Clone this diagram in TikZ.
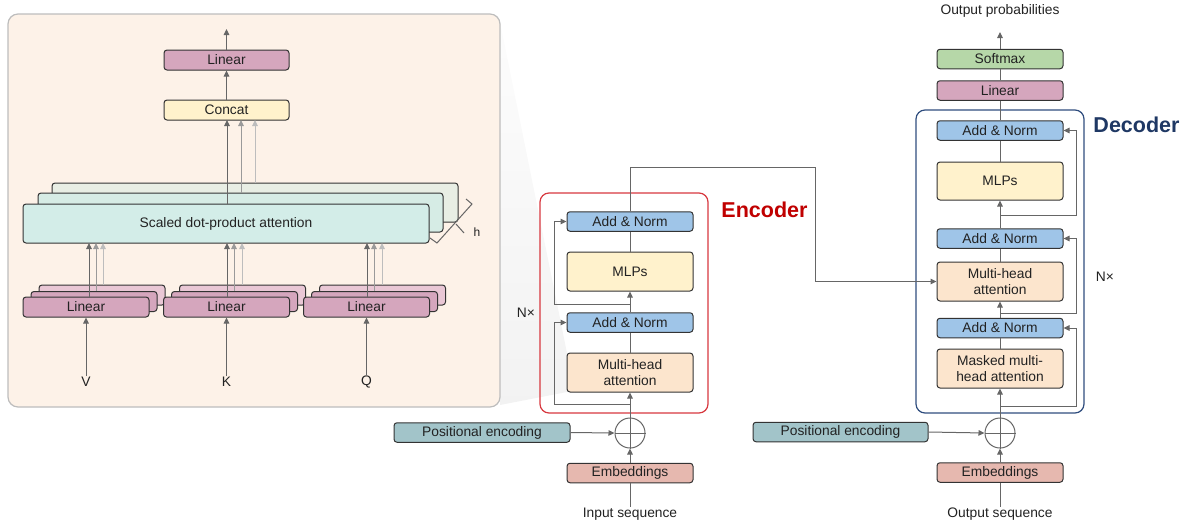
\documentclass[tikz,border=0pt]{standalone}
\usepackage{fontspec}
\setmainfont{Liberation Sans}
\usetikzlibrary{arrows.meta,calc}
\definecolor{panelfill}{HTML}{FDF2E8}
\definecolor{panelline}{HTML}{BDBDBD}
\definecolor{attfront}{HTML}{D3EDE8}
\definecolor{attmid}{HTML}{D6ECE5}
\definecolor{attback}{HTML}{E8EEE4}
\definecolor{linpink}{HTML}{D5A6BD}
\definecolor{linback}{HTML}{E9C7D5}
\definecolor{yellowf}{HTML}{FFF2CC}
\definecolor{bluef}{HTML}{9FC5E8}
\definecolor{orangef}{HTML}{FCE5CD}
\definecolor{tealf}{HTML}{A2C4C9}
\definecolor{salmonf}{HTML}{E6B8AF}
\definecolor{greenf}{HTML}{B6D7A8}
\definecolor{encred}{HTML}{D7383F}
\definecolor{enctext}{HTML}{C00000}
\definecolor{decblue}{HTML}{2F4D7E}
\definecolor{dectext}{HTML}{1F3864}
\definecolor{arrdark}{HTML}{666666}
\definecolor{arrmid}{HTML}{9A9A9A}
\definecolor{arrlight}{HTML}{BDBDBD}
\definecolor{boxline}{HTML}{333333}
\definecolor{txt}{HTML}{222222}
\tikzset{
  fnt/.style={font=\fontsize{13.8}{16}\selectfont, text=txt},
  blk/.style={fnt, draw=boxline, line width=1pt, rounded corners=3pt, inner sep=0pt, align=center},
  sbox/.style={blk, minimum width=126pt, minimum height=19.5pt},
  tbox/.style={blk, minimum width=126pt, minimum height=39pt},
  lbl/.style={fnt, inner sep=1pt},
  ln/.style={draw=arrdark, line width=1pt},
  arr/.style={ln, -{Triangle[length=6pt,width=5.5pt]}},
  arrm/.style={draw=arrmid, line width=1pt, -{Triangle[length=6pt,width=5.5pt]}},
  arrl/.style={draw=arrlight, line width=1pt, -{Triangle[length=6pt,width=5.5pt]}},
  plus/.style={circle, draw=arrdark, line width=1pt, minimum size=30pt, inner sep=0pt},
}
\begin{document}
\begin{tikzpicture}[x=1pt,y=-1pt]
\useasboundingbox (0,0) rectangle (1189,525);
% zoom wedge
\shade[top color=gray!2, bottom color=gray!10] (500,22) -- (567,353) -- (567,392) -- (500,405) -- cycle;
% panel
\draw[panelline, fill=panelfill, line width=1.2pt, rounded corners=10pt] (8,14) rectangle (500,407);

% attention stack
\node[blk, fill=attback, minimum width=406pt, minimum height=39pt] (attB) at (255,202.5) {};
\node[blk, fill=attmid, minimum width=405pt, minimum height=39pt] (attM) at (240.5,212.5) {};
\node[blk, fill=attfront, minimum width=406pt, minimum height=39pt] (att) at (226,223.5) {Scaled dot-product attention};

% h bracket
\draw[arrdark, line width=1pt] (466,199) -- (472,204) -- (437,243) -- (430,238);
\draw[arrdark, line width=1pt] (456,224) -- (464,233);
\node[lbl, font=\fontsize{12}{14}\selectfont] (hlab) at (477,232) {h};

% concat + linear
\node[blk, fill=yellowf, minimum width=125pt, minimum height=20pt] (concat) at (226.5,110) {Concat};
\node[blk, fill=linpink, minimum width=125pt, minimum height=20pt] (linTop) at (226.5,60) {Linear};
\coordinate (topEnd) at (226.5,29);
\draw[arr] (linTop.north) -- (topEnd);
\draw[arr] (concat.north) -- (linTop.south);
\draw[arr] (227,204) -- (227,120);
\draw[arrm] (241,193) -- (241,120);
\draw[arrl] (255,183) -- (255,120);

% linear groups
\foreach \nm/\cx/\lab in {V/86/V, K/226.5/K, Q/366.5/Q}{
  \node[blk, fill=linback, minimum width=126pt, minimum height=20pt] (l\nm B) at (\cx+16,295) {};
  \node[blk, fill=linpink, minimum width=126pt, minimum height=20pt] (l\nm M) at (\cx+8,301.5) {};
  \node[blk, fill=linpink, minimum width=126pt, minimum height=20pt] (l\nm) at (\cx,307) {Linear};
  \node[lbl] (in\nm) at (\cx,382) {\lab};
  \draw[arr] (in\nm.north) -- (l\nm.south);
}
\foreach \xa/\yb in {89/96, 227/234, 367/374}{
  \draw[arr] (\xa,297) -- (\xa,243);
  \draw[arrm] (\yb,291) -- (\yb,243);
}
\draw[arrl] (103,285) -- (103,243);
\draw[arrl] (242,285) -- (242,243);
\draw[arrl] (382,285) -- (382,243);

% ===== Encoder =====
\draw[encred, line width=1.2pt, rounded corners=9pt] (540,193) rectangle (708,413);
\node[font=\bfseries\fontsize{21.5}{24}\selectfont, text=enctext, inner sep=0pt] (encl) at (764.5,210) {Encoder};
\node[lbl] (enN) at (526,313) {N×};

\node[sbox, fill=bluef] (enAN2) at (630,221.5) {Add \& Norm};
\node[tbox, fill=yellowf] (enMLP) at (630,271.5) {MLPs};
\node[sbox, fill=bluef] (enAN1) at (630,322.5) {Add \& Norm};
\node[tbox, fill=orangef] (enMHA) at (630,372.5) {Multi-head\\attention};
\node[plus] (enPlus) at (630,433) {};
\draw[arrdark, line width=1pt] (enPlus.north) -- (enPlus.south) (enPlus.west) -- (enPlus.east);
\node[blk, fill=tealf, minimum width=176pt, minimum height=19.5pt] (enPE) at (482,432.5) {Positional encoding};
\node[sbox, fill=salmonf] (enEmb) at (630,473) {Embeddings};
\node[lbl] (inseq) at (630,514) {Input sequence};

\draw[ln] (inseq.north) -- (enEmb.south);
\draw[arr] (enEmb.north) -- (enPlus.south);
\draw[arr] (enPE.east) -- (enPlus.west);
\draw[arr] (enPlus.north) -- (enMHA.south);
\coordinate (enR1) at (630,404);
\draw[arr] (enR1) -| ([xshift=-12pt]enAN1.west) -- (enAN1.west);
\draw[ln] (enMHA.north) -- (enAN1.south);
\draw[arr] (enAN1.north) -- (enMLP.south);
\coordinate (enR2) at (630,304);
\draw[arr] (enR2) -| ([xshift=-12pt]enAN2.west) -- (enAN2.west);
\draw[ln] (enMLP.north) -- (enAN2.south);

% ===== Decoder =====
\draw[decblue, line width=1.2pt, rounded corners=9pt] (916,110) rectangle (1084,413);
\node[font=\bfseries\fontsize{21.5}{24}\selectfont, text=dectext, inner sep=0pt] (decl) at (1136.5,125) {Decoder};
\node[lbl] (deN) at (1105,277) {N×};

\node[lbl] (outp) at (1000,11) {Output probabilities};
\coordinate (deTop) at (1000,32);
\node[sbox, fill=greenf] (deSoft) at (1000,59) {Softmax};
\node[sbox, fill=linpink] (deLin) at (1000,90.5) {Linear};
\node[sbox, fill=bluef] (deAN3) at (1000,130.5) {Add \& Norm};
\node[blk, fill=yellowf, minimum width=126pt, minimum height=38pt] (deMLP) at (1000,181) {MLPs};
\node[sbox, fill=bluef] (deAN2) at (1000,238.5) {Add \& Norm};
\node[tbox, fill=orangef] (deMHA) at (1000,281.5) {Multi-head\\attention};
\node[sbox, fill=bluef] (deAN1) at (1000,328) {Add \& Norm};
\node[tbox, fill=orangef] (deMMHA) at (1000,368.5) {Masked multi-\\head attention};
\node[plus] (dePlus) at (1000,433) {};
\draw[arrdark, line width=1pt] (dePlus.north) -- (dePlus.south) (dePlus.west) -- (dePlus.east);
\node[blk, fill=tealf, minimum width=175pt, minimum height=19.5pt] (dePE) at (840.5,432) {Positional encoding};
\node[sbox, fill=salmonf] (deEmb) at (1000,472.5) {Embeddings};
\node[lbl] (outseq) at (1000,514) {Output sequence};

\draw[ln] (outseq.north) -- (deEmb.south);
\draw[arr] (deEmb.north) -- (dePlus.south);
\draw[arr] (dePE.east) -- (dePlus.west);
\draw[arr] (dePlus.north) -- (deMMHA.south);
\coordinate (deR1) at (1000,406);
\draw[arr] (deR1) -| ([xshift=13pt]deAN1.east) -- (deAN1.east);
\draw[ln] (deMMHA.north) -- (deAN1.south);
\draw[arr] (deAN1.north) -- (deMHA.south);
\coordinate (deR2) at (1000,313);
\draw[arr] (deR2) -| ([xshift=13pt]deAN2.east) -- (deAN2.east);
\draw[ln] (deMHA.north) -- (deAN2.south);
\draw[arr] (deAN2.north) -- (deMLP.south);
\coordinate (deR3) at (1000,215);
\draw[arr] (deR3) -| ([xshift=13pt]deAN3.east) -- (deAN3.east);
\draw[ln] (deMLP.north) -- (deAN3.south);
\draw[ln] (deAN3.north) -- (deLin.south);
\draw[ln] (deLin.north) -- (deSoft.south);
\draw[arr] (deSoft.north) -- (deTop);

% cross connection
\coordinate (cross) at (815,167);
\draw[arr] (enAN2.north) |- (cross) |- (deMHA.west);
\end{tikzpicture}
\end{document}
